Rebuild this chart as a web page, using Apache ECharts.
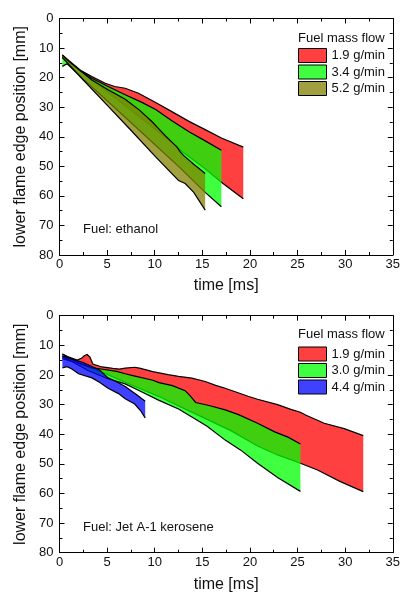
<!DOCTYPE html>
<html><head><meta charset="utf-8">
<script src="https://cdn.jsdelivr.net/npm/echarts@6.0.0/dist/echarts.min.js"></script>
<style>html,body{margin:0;padding:0;background:#fff}#c{width:403px;height:595px}</style>
</head><body><div id="c"></div><script>
// ---------- data (time [ms], lower flame edge position [mm]) ----------
// Top panel: ethanol
const ethRedUpper   = [[0.3,12.3],[1.0,14.3],[2.2,17.5],[3.4,19.6],[4.8,21.9],[5.8,23.0],[6.9,23.6],[8.3,25.3],[10.1,28.4],[11.8,31.5],[13.6,34.8],[15.3,37.6],[17.0,40.4],[19.3,43.5]];
const ethRedLower   = [[0.3,13.0],[2.5,18.5],[5.0,24.7],[7.5,31.0],[10.0,37.3],[13.0,45.3],[15.3,50.8],[17.0,55.4],[19.3,61.0]];
const ethGreenUpper = [[0.3,12.8],[1.0,14.5],[2.2,17.7],[3.4,20.2],[5.1,23.0],[6.9,25.8],[8.6,28.3],[10.1,30.8],[11.8,34.6],[13.6,38.3],[15.3,41.4],[17.0,44.6]];
const ethGreenLower = [[0.3,16.2],[0.8,15.3],[2.5,20.5],[5.0,27.8],[7.5,35.2],[10.0,42.6],[12.5,50.0],[15.3,58.8],[17.0,63.7]];
const ethOliveUpper = [[0.3,12.3],[1.0,14.5],[2.0,17.2],[3.4,20.8],[5.1,24.1],[6.9,27.3],[8.4,31.0],[9.75,35.0],[11.1,39.6],[12.35,43.5],[12.7,45.2],[13.05,46.4],[14.1,49.3],[15.3,52.4]];
const ethOliveLower = [[0.3,13.2],[2.5,20.8],[5.0,29.3],[7.5,37.8],[10.0,46.5],[11.8,52.5],[12.5,54.8],[13.2,55.8],[14.1,58.8],[15.3,64.8]];
// Bottom panel: Jet A-1 kerosene
const kerRedUpper   = [[0.3,12.9],[1.0,14.0],[1.85,15.0],[2.3,14.4],[2.6,13.5],[2.9,13.1],[3.2,14.0],[3.5,16.3],[4.45,17.3],[5.6,17.8],[6.3,18.0],[6.9,17.7],[7.9,17.4],[8.4,17.7],[9.8,18.9],[11.4,19.9],[12.5,20.5],[13.9,21.1],[15.3,22.2],[16.4,23.5],[17.4,24.5],[19.8,27.2],[20.8,28.2],[22.9,30.0],[24.3,31.6],[25.3,32.6],[25.9,33.6],[27.8,36.3],[29.9,38.1],[31.9,40.5]];
const kerRedLower   = [[0.3,14.5],[2.5,16.5],[5.0,19.8],[7.5,23.3],[10.45,27.3],[13.0,31.2],[15.5,35.0],[18.0,38.8],[20.8,44.0],[22.9,47.0],[25.3,49.8],[27.1,52.1],[29.5,56.0],[31.9,59.4]];
const kerGreenUpper = [[0.3,12.9],[0.8,13.9],[2.0,16.0],[3.4,17.6],[4.2,17.9],[6.0,18.8],[6.9,19.6],[7.7,20.2],[9.8,21.8],[10.45,22.6],[11.85,23.6],[13.2,25.3],[13.7,27.0],[14.3,29.3],[15.7,30.3],[17.4,31.8],[18.8,33.4],[20.8,36.3],[22.6,39.2],[24.0,41.0],[25.3,43.3]];
const kerGreenLower = [[0.3,13.8],[1.5,15.8],[3.0,18.5],[5.0,21.2],[6.9,23.0],[8.5,25.5],[10.4,28.5],[12.5,31.5],[13.9,34.2],[15.5,37.3],[17.4,42.0],[19.0,45.3],[20.8,49.8],[22.9,54.6],[25.3,59.3]];
const kerBlueUpper  = [[0.3,13.5],[1.0,14.3],[2.5,15.8],[4.2,18.3],[5.1,21.0],[6.0,22.3],[6.9,23.9],[8.0,26.4],[9.0,28.9]];
const kerBlueLower  = [[0.3,17.6],[0.8,17.2],[1.3,18.0],[2.0,19.6],[3.4,21.0],[4.2,22.5],[5.1,24.5],[6.2,26.3],[6.9,28.0],[7.9,29.8],[8.5,32.0],[9.0,34.5]];

const xTicks = {min: 0, max: 35, step: 5};
const yTicks = {min: 0, max: 80, step: 10};
const topNames = ['1.9 g/min', '3.4 g/min', '5.2 g/min'];
const botNames = ['1.9 g/min', '3.0 g/min', '4.4 g/min'];

// ---------- styling ----------
const FONT = '"Liberation Sans", Arial, Helvetica, sans-serif';
const TXT = '#111';
const RED = 'rgba(255,0,0,0.75)', GREEN = 'rgba(0,255,0,0.75)', OLIVE = 'rgba(128,128,0,0.75)', BLUE = 'rgba(0,0,255,0.75)';

function band(name, color, upper, lower, gi) {
  return {
    type: 'custom', name: name, xAxisIndex: gi * 2, yAxisIndex: gi * 2,
    itemStyle: {color: color}, silent: true, animation: false,
    data: upper.concat(lower), encode: {x: 0, y: 1},
    renderItem: function (params, api) {
      if (params.dataIndex !== 0) return null;
      const up = upper.map(p => api.coord(p));
      const lo = lower.map(p => api.coord(p));
      const poly = up.concat(lo.slice().reverse());
      return {type: 'group', children: [
        {type: 'polygon', shape: {points: poly}, style: {fill: color, stroke: null}},
        {type: 'polyline', shape: {points: up}, style: {stroke: '#000', lineWidth: 1.2, fill: null}},
        {type: 'polyline', shape: {points: lo}, style: {stroke: '#000', lineWidth: 1.2, fill: null}}
      ]};
    }
  };
}

const line = {lineStyle: {color: '#000', width: 1}};
function xAxes(gi, gap) {
  const base = {gridIndex: gi, type: 'value', min: xTicks.min, max: xTicks.max, interval: xTicks.step,
    axisLine: {onZero: false, lineStyle: {color: '#000', width: 1}},
    axisTick: {inside: true, length: 5, lineStyle: {color: '#000'}},
    minorTick: {show: true, splitNumber: 2, length: 3, lineStyle: {color: '#000'}},
    splitLine: {show: false}};
  return [
    Object.assign({}, base, {position: 'bottom', name: 'time [ms]', nameLocation: 'middle', nameGap: gap,
      nameTextStyle: {fontSize: 16, color: TXT, fontFamily: FONT},
      axisLabel: {fontSize: 13, color: TXT, margin: 3, fontFamily: FONT}}),
    Object.assign({}, base, {position: 'top', axisLabel: {show: false}})
  ];
}
function yAxes(gi) {
  const base = {gridIndex: gi, type: 'value', inverse: true, min: yTicks.min, max: yTicks.max, interval: yTicks.step,
    axisLine: {onZero: false, lineStyle: {color: '#000', width: 1}},
    axisTick: {inside: true, length: 5, lineStyle: {color: '#000'}},
    minorTick: {show: true, splitNumber: 2, length: 3, lineStyle: {color: '#000'}},
    splitLine: {show: false}};
  return [
    Object.assign({}, base, {position: 'left', name: 'lower flame edge position [mm]', nameLocation: 'middle', nameGap: 31,
      nameTextStyle: {fontSize: 16, color: TXT, fontFamily: FONT},
      axisLabel: {fontSize: 13, color: TXT, margin: 6, fontFamily: FONT}}),
    Object.assign({}, base, {position: 'right', axisLabel: {show: false}})
  ];
}
function legend(names, top) {
  return {data: names, orient: 'vertical', left: 298, top: top, padding: 0,
    itemWidth: 28, itemHeight: 14, itemGap: 1.5, icon: 'rect', selectedMode: false,
    itemStyle: {borderColor: '#000', borderWidth: 1},
    textStyle: {fontSize: 13, color: TXT, fontFamily: FONT}};
}
function label(text, left, top) {
  return {text: text, left: left, top: top, padding: 0,
    textStyle: {fontSize: 13, fontWeight: 'normal', color: TXT, fontFamily: FONT}};
}

const chart = echarts.init(document.getElementById('c'), null, {renderer: 'canvas'});
chart.setOption({
  animation: false,
  backgroundColor: '#fff',
  grid: [
    {left: 59.5, top: 18.5, width: 336.5, height: 236.5},
    {left: 59.5, top: 315.7, width: 336.5, height: 237}
  ],
  xAxis: xAxes(0, 23).concat(xAxes(1, 24)),
  yAxis: yAxes(0).concat(yAxes(1)),
  title: [
    label('Fuel mass flow', 298, 32),
    label('Fuel: ethanol', 83, 223),
    label('Fuel mass flow', 298, 328),
    label('Fuel: Jet A-1 kerosene', 83, 520.5)
  ],
  legend: [legend(topNames, 48), legend(botNames, 346.5)],
  series: [
    band(topNames[0], RED, ethRedUpper, ethRedLower, 0),
    band(topNames[1], GREEN, ethGreenUpper, ethGreenLower, 0),
    band(topNames[2], OLIVE, ethOliveUpper, ethOliveLower, 0),
    band(botNames[0], RED, kerRedUpper, kerRedLower, 1),
    band(botNames[1], GREEN, kerGreenUpper, kerGreenLower, 1),
    band(botNames[2], BLUE, kerBlueUpper, kerBlueLower, 1)
  ]
});
</script></body></html>
